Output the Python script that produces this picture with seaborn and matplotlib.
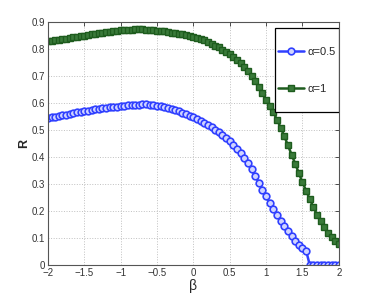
import numpy as np
import pandas as pd
import seaborn as sns
import matplotlib
matplotlib.use("Agg")
import matplotlib.pyplot as plt
from matplotlib.patches import Rectangle

# beta grid, step 0.05 from -2 to 2
beta = [round(-2 + 0.05 * i, 2) for i in range(81)]

r_alpha05 = [
    0.545, 0.547, 0.550, 0.552, 0.555, 0.557, 0.560, 0.562, 0.565, 0.567,
    0.569, 0.572, 0.574, 0.576, 0.578, 0.580, 0.582, 0.584, 0.586, 0.587,
    0.589, 0.590, 0.592, 0.593, 0.594, 0.594, 0.595, 0.595, 0.594, 0.592,
    0.590, 0.588, 0.585, 0.582, 0.578, 0.574, 0.569, 0.564, 0.559, 0.553,
    0.547, 0.541, 0.534, 0.527, 0.519, 0.510, 0.501, 0.491, 0.481, 0.471,
    0.460, 0.446, 0.431, 0.414, 0.396, 0.376, 0.354, 0.330, 0.305, 0.279,
    0.254, 0.230, 0.207, 0.185, 0.163, 0.143, 0.124, 0.106, 0.090, 0.075,
    0.063, 0.053, 0.0, 0.0, 0.0, 0.0, 0.0, 0.0, 0.0, 0.0,
    0.0,
]

r_alpha1 = [
    0.828, 0.830, 0.832, 0.835, 0.837, 0.839, 0.842, 0.844, 0.846, 0.848,
    0.850, 0.852, 0.854, 0.856, 0.858, 0.860, 0.862, 0.864, 0.866, 0.867,
    0.869, 0.870, 0.871, 0.872, 0.873, 0.873, 0.873, 0.872, 0.871, 0.870,
    0.868, 0.867, 0.865, 0.863, 0.861, 0.859, 0.857, 0.855, 0.852, 0.849,
    0.846, 0.842, 0.837, 0.832, 0.826, 0.820, 0.813, 0.806, 0.798, 0.790,
    0.781, 0.771, 0.760, 0.747, 0.733, 0.717, 0.700, 0.680, 0.660, 0.637,
    0.613, 0.590, 0.565, 0.538, 0.509, 0.477, 0.443, 0.409, 0.375, 0.340,
    0.306, 0.275, 0.244, 0.214, 0.186, 0.161, 0.139, 0.119, 0.103, 0.090,
    0.078,
]

labels = ["\u03b1=0.5", "\u03b1=1"]
x_ticks = [-2, -1.5, -1, -0.5, 0, 0.5, 1, 1.5, 2]
y_ticks = [0, 0.1, 0.2, 0.3, 0.4, 0.5, 0.6, 0.7, 0.8, 0.9]

df = pd.DataFrame({
    "beta": beta * 2,
    "R": r_alpha05 + r_alpha1,
    "series": [labels[0]] * len(beta) + [labels[1]] * len(beta),
})

sns.set_style("white")
plt.rcParams["font.family"] = ["Liberation Sans", "DejaVu Sans"]

fig = plt.figure(figsize=(3.74, 2.98), dpi=100)
ax = fig.add_axes([0.128, 0.111, 0.778, 0.815])

blue = "#3040ff"
green = "#1e5c1e"

sns.lineplot(data=df[df.series == labels[0]], x="beta", y="R", ax=ax,
             color=blue, lw=1.8, marker="o", markersize=4.8,
             markerfacecolor="#d0d4ff", markeredgecolor=blue, markeredgewidth=1.2,
             label=labels[0])
sns.lineplot(data=df[df.series == labels[1]], x="beta", y="R", ax=ax,
             color=green, lw=1.8, marker="s", markersize=4.6,
             markerfacecolor="#3a7a3a", markeredgecolor=green, markeredgewidth=1.0,
             label=labels[1])

ax.set_xlim(-2, 2)
ax.set_ylim(0, 0.9)
ax.set_xticks(x_ticks)
ax.set_xticklabels(["\u22122", "\u22121.5", "\u22121", "\u22120.5", "0", "0.5", "1", "1.5", "2"])
ax.set_yticks(y_ticks)
ax.set_yticklabels(["0", "0.1", "0.2", "0.3", "0.4", "0.5", "0.6", "0.7", "0.8", "0.9"])
ax.tick_params(direction="in", length=3, width=0.6, colors="#333333",
               labelsize=7, top=True, right=True, pad=2)
ax.grid(True, linestyle=":", color="#c0c0c0", lw=0.7)
for s in ax.spines.values():
    s.set_color("#555555")
    s.set_linewidth(0.8)

ax.set_xlabel("\u03b2", fontsize=10, labelpad=1)
ax.set_ylabel("R", fontsize=9, fontweight="bold", labelpad=1)

# legend box drawn separately (tall MATLAB-style box)
box = Rectangle((0.780, 0.630), 0.220, 0.345, transform=ax.transAxes,
                facecolor="white", edgecolor="black", lw=0.9, zorder=4)
ax.add_patch(box)
leg = ax.legend(loc="center", bbox_to_anchor=(0.89, 0.80),
                fontsize=8, frameon=False, handlelength=2.3,
                labelspacing=2.4, borderpad=0, handletextpad=0.3)
leg.set_zorder(5)

fig.savefig("out.png", dpi=100)
